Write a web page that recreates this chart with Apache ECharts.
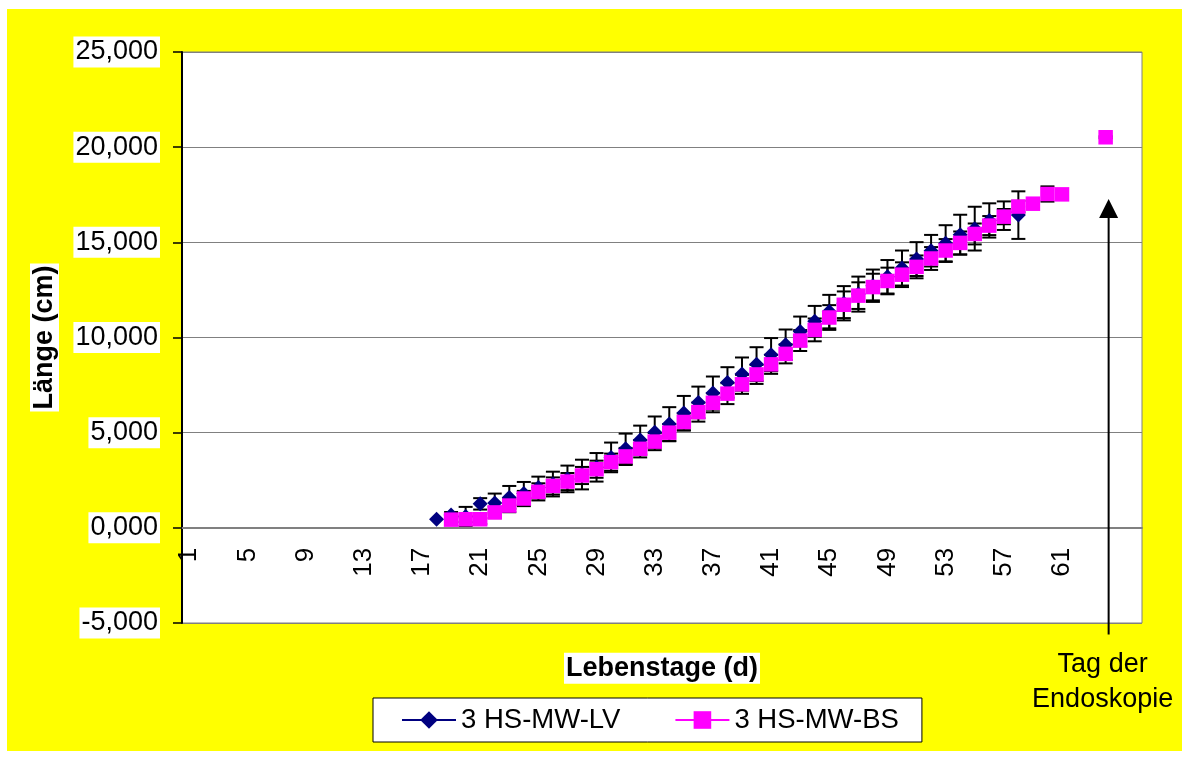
<!DOCTYPE html>
<html>
<head>
<meta charset="utf-8">
<script src="https://cdn.jsdelivr.net/npm/echarts@6/dist/echarts.min.js"></script>
<style>
  html, body { margin: 0; padding: 0; background: #fff; }
  #chart { position: absolute; left: 7px; top: 9px; width: 1175px; height: 742px; }
</style>
</head>
<body>
<div id="chart"></div>
<script>
// days on the x axis
const dayLabels = []
for (let d = 1; d <= 66; d++) dayLabels.push(String(d))

// 3 HS-MW-LV: mean length (cm) and error per day
const lvDays = [18, 19, 20, 21, 22, 23, 24, 25, 26, 27, 28, 29, 30, 31, 32, 33, 34, 35, 36, 37, 38, 39, 40, 41, 42, 43, 44, 45, 46, 47, 48, 49, 50, 51, 52, 53, 54, 55, 56, 57, 58]
const lvMean = [0.45, 0.68, 0.6, 1.26, 1.3, 1.6, 1.81, 2.12, 2.3, 2.57, 2.8, 3.18, 3.7, 4.15, 4.61, 5.02, 5.45, 6.03, 6.59, 7.08, 7.64, 8.08, 8.6, 9.1, 9.62, 10.32, 10.85, 11.36, 11.8, 12.28, 12.72, 13.19, 13.65, 14.12, 14.56, 14.95, 15.4, 15.72, 16.15, 16.4, 16.43]
const lvErr = [0, 0.15, 0.5, 0.3, 0.5, 0.6, 0.6, 0.57, 0.65, 0.7, 0.78, 0.75, 0.78, 0.8, 0.76, 0.83, 0.89, 0.9, 0.83, 0.87, 0.8, 0.87, 0.89, 0.87, 0.8, 0.78, 0.81, 0.88, 0.9, 0.92, 0.85, 0.88, 0.92, 0.89, 0.83, 0.95, 1.05, 1.15, 0.9, 0.75, 1.25]

// 3 HS-MW-BS
const bsDays = [19, 20, 21, 22, 23, 24, 25, 26, 27, 28, 29, 30, 31, 32, 33, 34, 35, 36, 37, 38, 39, 40, 41, 42, 43, 44, 45, 46, 47, 48, 49, 50, 51, 52, 53, 54, 55, 56, 57, 58, 59, 60, 61, 64]
const bsMean = [0.43, 0.45, 0.45, 0.81, 1.17, 1.54, 1.89, 2.2, 2.43, 2.75, 3.08, 3.45, 3.75, 4.15, 4.53, 5.0, 5.56, 6.08, 6.57, 7.05, 7.54, 8.06, 8.59, 9.14, 9.84, 10.4, 11.05, 11.72, 12.2, 12.65, 12.97, 13.3, 13.71, 14.15, 14.57, 14.97, 15.44, 15.88, 16.35, 16.88, 17.03, 17.54, 17.52, 20.52]
const bsErr = [0.1, 0.15, 0.25, 0.3, 0.35, 0.4, 0.45, 0.45, 0.45, 0.45, 0.45, 0.45, 0.45, 0.45, 0.45, 0.45, 0.45, 0.5, 0.5, 0.55, 0.5, 0.5, 0.5, 0.5, 0.55, 0.6, 0.65, 0.7, 0.7, 0.7, 0.7, 0.65, 0.6, 0.6, 0.6, 0.6, 0.55, 0.5, 0.4, 0.3, 0.15, 0.4, 0, 0.05]

// value axis range
const yMin = -5
const yMax = 25
const yStep = 5

// endoscopy marker
const endoDay = '64'
const arrowTop = 17.28
const arrowBottom = -5.6

const FONT = "'Liberation Sans', Arial, sans-serif"
const gridH = 571

const toSeries = (days, vals) => {
  const out = dayLabels.map(() => null)
  days.forEach((d, i) => { out[d - 1] = vals[i] })
  return out
}
const toErr = (days, vals, errs) =>
  days.map((d, i) => [d - 1, vals[i] - errs[i], vals[i] + errs[i]]).filter((r) => r[2] > r[1])

const renderErr = (params, api) => {
  const x = api.value(0)
  const lo = api.coord([x, api.value(1)])
  const hi = api.coord([x, api.value(2)])
  const w = 7
  const style = { stroke: '#000', lineWidth: 2 }
  return {
    type: 'group',
    children: [
      { type: 'line', shape: { x1: lo[0], y1: lo[1], x2: hi[0], y2: hi[1] }, style },
      { type: 'line', shape: { x1: lo[0] - w, y1: lo[1], x2: lo[0] + w, y2: lo[1] }, style },
      { type: 'line', shape: { x1: hi[0] - w, y1: hi[1], x2: hi[0] + w, y2: hi[1] }, style }
    ]
  }
}

const chart = echarts.init(document.getElementById('chart'))

const option = {
  backgroundColor: '#ffff00',
  animation: false,
  textStyle: { fontFamily: FONT },
  grid: {
    left: 175,
    top: 43,
    width: 960,
    height: gridH,
    outerBoundsMode: 'none',
    containLabel: false,
    show: true,
    backgroundColor: '#fff',
    borderColor: '#808080',
    borderWidth: 1
  },
  legend: {
    left: 366,
    top: 689,
    padding: [8, 23, 8, 28],
    itemWidth: 54,
    itemHeight: 22,
    itemGap: 54,
    backgroundColor: '#fff',
    borderColor: '#000',
    borderWidth: 1,
    borderRadius: 0,
    textStyle: { fontSize: 27.5, color: '#000', fontFamily: FONT },
    data: [
      { name: '3 HS-MW-LV', lineStyle: { width: 2, opacity: 1, color: '#000080' } },
      { name: '3 HS-MW-BS', lineStyle: { width: 2, opacity: 1, color: '#ff00ff' } }
    ]
  },
  xAxis: {
    type: 'category',
    data: dayLabels,
    boundaryGap: true,
    // sit on the zero line of the value axis
    offset: -gridH * (0 - yMin) / (yMax - yMin),
    name: 'Lebenstage (d)',
    nameLocation: 'middle',
    nameGap: 125,
    nameTextStyle: {
      fontSize: 27,
      fontWeight: 'bold',
      color: '#000',
      backgroundColor: '#fff',
      padding: [2, 2, 2, 2]
    },
    axisLine: { onZero: false, lineStyle: { color: '#808080', width: 2 } },
    axisTick: { interval: 0, alignWithLabel: false, length: 7, lineStyle: { color: '#606060', width: 1.5 } },
    axisLabel: {
      interval: (idx) => idx % 4 === 0 && idx <= 60,
      rotate: 90,
      margin: 20,
      fontSize: 26,
      color: '#000'
    },
    splitLine: { show: false }
  },
  yAxis: {
    type: 'value',
    min: yMin,
    max: yMax,
    interval: yStep,
    name: 'Länge (cm)',
    nameLocation: 'middle',
    nameRotate: 90,
    nameGap: 123,
    nameTextStyle: {
      fontSize: 27,
      fontWeight: 'bold',
      color: '#000',
      backgroundColor: '#fff',
      padding: [1, 2, 1, 2]
    },
    axisLine: { show: true, lineStyle: { color: '#000', width: 2 } },
    axisTick: { show: true, length: 9, lineStyle: { color: '#000', width: 1.5 } },
    axisLabel: {
      margin: 22,
      fontSize: 27,
      color: '#000',
      backgroundColor: '#fff',
      lineHeight: 31,
      padding: [0, 2, 0, 2],
      formatter: (v) => v.toFixed(3).replace('.', ',')
    },
    splitLine: { lineStyle: { color: '#808080', width: 1 } }
  },
  series: [
    {
      name: 'err-lv',
      type: 'custom',
      z: 1,
      renderItem: renderErr,
      encode: { x: 0, y: [1, 2] },
      data: toErr(lvDays, lvMean, lvErr)
    },
    {
      name: 'err-bs',
      type: 'custom',
      z: 1,
      renderItem: renderErr,
      encode: { x: 0, y: [1, 2] },
      data: toErr(bsDays, bsMean, bsErr)
    },
    {
      name: '3 HS-MW-LV',
      type: 'line',
      z: 2,
      symbol: 'diamond',
      symbolSize: [15, 15],
      showAllSymbol: true,
      connectNulls: false,
      itemStyle: { color: '#000080' },
      lineStyle: { width: 0, opacity: 0, color: '#000080' },
      data: toSeries(lvDays, lvMean)
    },
    {
      name: '3 HS-MW-BS',
      type: 'line',
      z: 3,
      symbol: 'rect',
      symbolSize: 14.5,
      showAllSymbol: true,
      connectNulls: false,
      itemStyle: { color: '#ff00ff' },
      lineStyle: { width: 0, opacity: 0, color: '#ff00ff' },
      data: toSeries(bsDays, bsMean)
    }
  ]
}

chart.setOption(option)

// arrow marking the day of the endoscopy
const tipPx = chart.convertToPixel({ gridIndex: 0 }, [endoDay, arrowTop])
const basePx = chart.convertToPixel({ gridIndex: 0 }, [endoDay, arrowBottom])
const ax = tipPx[0] + 3
chart.setOption({
  graphic: [
    {
      type: 'line',
      z: 10,
      shape: { x1: ax, y1: basePx[1], x2: ax, y2: tipPx[1] + 16 },
      style: { stroke: '#000', lineWidth: 2 }
    },
    {
      type: 'polygon',
      z: 10,
      shape: { points: [[ax, tipPx[1]], [ax - 9.5, tipPx[1] + 19], [ax + 9.5, tipPx[1] + 19]] },
      style: { fill: '#000' }
    },
    {
      type: 'text',
      z: 10,
      x: ax - 6,
      y: 638,
      style: {
        text: 'Tag der\nEndoskopie',
        fontSize: 27,
        fontFamily: FONT,
        lineHeight: 35,
        fill: '#000',
        align: 'center',
        verticalAlign: 'top'
      }
    }
  ]
})
</script>
</body>
</html>
